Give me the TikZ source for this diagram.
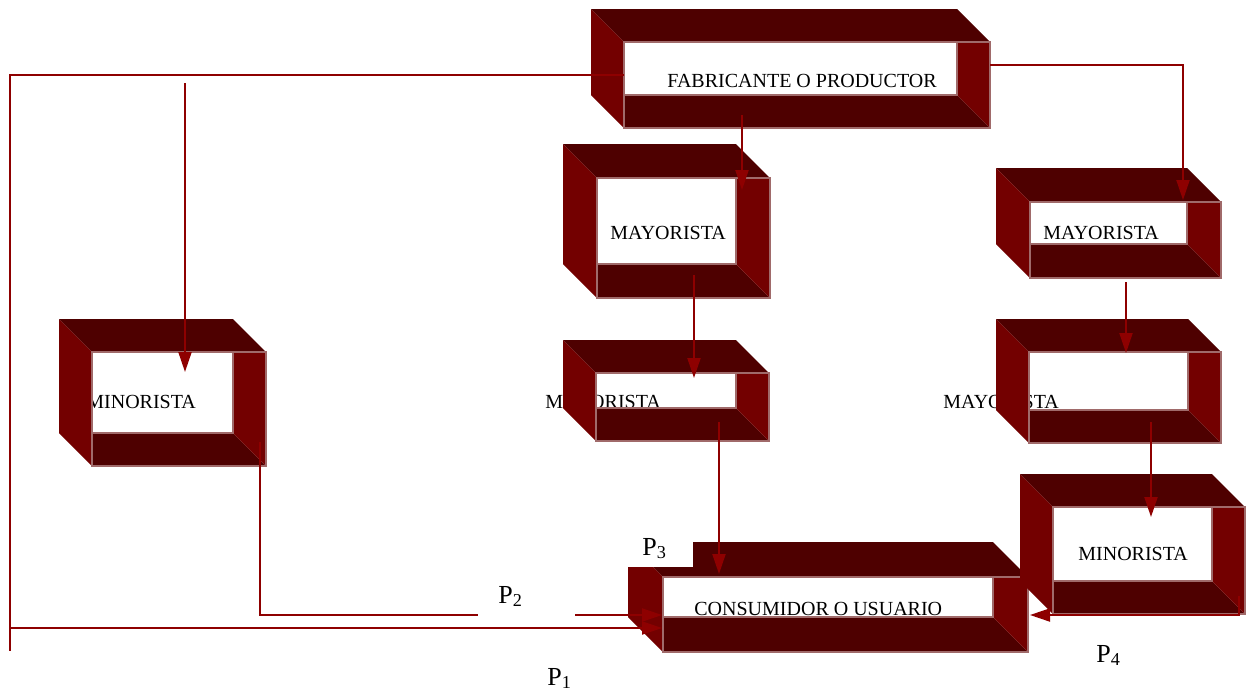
\documentclass[tikz,border=0pt]{standalone}
\usepackage{fontspec}
\setmainfont{Liberation Serif}
\usetikzlibrary{arrows.meta}
\definecolor{boxdark}{HTML}{4E0000}
\definecolor{boxred}{HTML}{730000}
\definecolor{rimpink}{HTML}{A06A6A}
\definecolor{linkred}{HTML}{8E0000}
\tikzset{
  boxtop/.style={fill=boxdark},
  boxside/.style={fill=boxred},
  rimline/.style={draw=rimpink,line width=0.75pt},
  boxlabel/.style={font=\fontsize{10}{12}\selectfont,inner sep=0pt,anchor=base west},
  plabel/.style={font=\fontsize{13}{15}\selectfont,inner sep=0pt,anchor=base west},
  plabelw/.style={plabel,fill=white,align=left},
  link/.style={draw=linkred,line width=1pt},
  arr/.style={link,-{Triangle[length=10pt,width=6.5pt]}},
}
% hollow box: back top-left (#1,#2), front bottom-right (#3,#4), depth #5
\newcommand{\hollowbox}[5]{%
  \pgfmathsetmacro{\hbfxa}{#1+#5}
  \pgfmathsetmacro{\hbfya}{#2+#5}
  \pgfmathsetmacro{\hbbxb}{#3-#5}
  \pgfmathsetmacro{\hbbyb}{#4-#5}
  \fill[boxtop] (#1,#2) -- (\hbbxb,#2) -- (#3,\hbfya) -- (\hbfxa,\hbfya) -- cycle;
  \fill[boxside] (#1,#2) -- (\hbfxa,\hbfya) -- (\hbfxa,#4) -- (#1,\hbbyb) -- cycle;
  \fill[boxtop] (\hbfxa,\hbbyb) -- (\hbbxb,\hbbyb) -- (#3,#4) -- (\hbfxa,#4) -- cycle;
  \fill[boxside] (\hbbxb,\hbfya) -- (#3,\hbfya) -- (#3,#4) -- (\hbbxb,\hbbyb) -- cycle;
  \draw[rimline] (\hbfxa,\hbfya) rectangle (#3,#4);
  \draw[rimline] (\hbfxa,\hbfya) rectangle (\hbbxb,\hbbyb);
}

\begin{document}
\begin{tikzpicture}[x=0.5pt,y=-0.5pt]
  \fill[white] (0,0) rectangle (1249,692);
  \useasboundingbox (0,0) rectangle (1249,692);

  % texts sit behind the boxes
  \node[boxlabel] (fab) at (667,87) {FABRICANTE O PRODUCTOR};
  \node[boxlabel] (may1) at (610,239) {MAYORISTA};
  \node[boxlabel] (may2) at (545,408) {MAYORISTA};
  \node[boxlabel] (may3) at (1043,239) {MAYORISTA};
  \node[boxlabel] (may4) at (943,408) {MAYORISTA};
  \node[boxlabel] (min1) at (86,408) {MINORISTA};
  \node[boxlabel] (min2) at (1078,560) {MINORISTA};
  \node[boxlabel] (cons) at (694,615) {CONSUMIDOR O USUARIO};

  % boxes
  \hollowbox{591}{9}{990}{128}{33}
  \hollowbox{59}{319}{266}{466}{33}
  \hollowbox{563}{144}{770}{298}{34}
  \hollowbox{563}{340}{769}{441}{33}
  \hollowbox{996}{168}{1221}{278}{34}
  \hollowbox{996}{319}{1221}{443}{33}
  \hollowbox{628}{542}{1028}{652}{35}
  \hollowbox{1020}{474}{1245}{614}{33}

  % connector ends
  \coordinate (fab-w) at (624,75);
  \coordinate (fab-s) at (742,115);
  \coordinate (fab-e) at (990,65);
  \coordinate (lft-end) at (10,651);
  \coordinate (min1-src) at (185,83);
  \coordinate (min1-n) at (185,372);
  \coordinate (min1-s) at (260,442);
  \coordinate (may1-n) at (742,190);
  \coordinate (may1-s) at (694,275);
  \coordinate (may2-n) at (694,378);
  \coordinate (may2-s) at (719,422);
  \coordinate (may3-n) at (1183,200);
  \coordinate (may3-s) at (1126,282);
  \coordinate (may4-n) at (1126,353);
  \coordinate (may4-s) at (1151,422);
  \coordinate (min2-n) at (1151,517);
  \coordinate (min2-se) at (1239,596);
  \coordinate (cons-n) at (719,574);
  \coordinate (cons-w1) at (662,615);
  \coordinate (cons-w2) at (662,628);
  \coordinate (cons-e) at (1030,615);

  % connectors
  \draw[link] (fab-w) -| (lft-end);
  \draw[arr] (lft-end |- cons-w2) -- (cons-w2);
  \draw[arr] (min1-src) -- (min1-n);
  \draw[arr] (min1-s) |- (cons-w1);
  \draw[arr] (fab-s) -- (may1-n);
  \draw[arr] (fab-e) -| (may3-n);
  \draw[arr] (may1-s) -- (may2-n);
  \draw[arr] (may2-s) -- (cons-n);
  \draw[arr] (may3-s) -- (may4-n);
  \draw[arr] (may4-s) -- (min2-n);
  \draw[arr] (min2-se) |- (cons-e);

  % path labels
  \node[plabel] (p1) at (547,685) {P\textsubscript{1}};
  \node[plabelw,inner xsep=10pt,inner ysep=6pt,text width=28.5pt] (p2) at (478,603) {P\textsubscript{2}};
  \node[plabelw,inner xsep=11pt,inner ysep=4pt,text width=14.5pt] (p3) at (620,555) {P\textsubscript{3}};
  \node[plabel] (p4) at (1096,662) {P\textsubscript{4}};
\end{tikzpicture}
\end{document}
